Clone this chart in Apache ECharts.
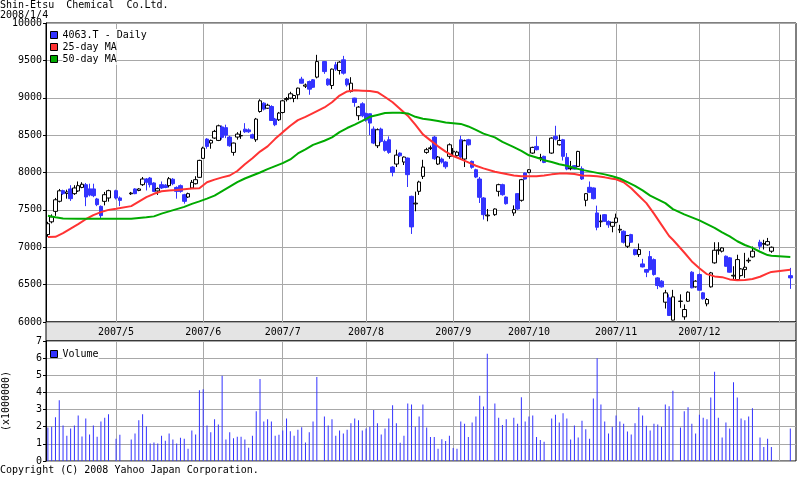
<!DOCTYPE html>
<html>
<head>
<meta charset="utf-8">
<script src="https://cdn.jsdelivr.net/npm/echarts@6/dist/echarts.min.js"></script>
<style>
  html, body { margin: 0; padding: 0; background: #fff; }
  #chart { width: 800px; height: 477px; }
</style>
</head>
<body>
<div id="chart"></div>
<script>
// 4063.T Shin-Etsu Chemical, daily, 2007/4/5 - 2008/1/4
const closedDays = ['2007/4/30', '2007/5/3', '2007/5/4', '2007/7/16', '2007/9/17', '2007/9/24',
  '2007/10/8', '2007/11/23', '2007/12/24', '2007/12/31', '2008/1/1', '2008/1/2', '2008/1/3']
const lastTrade = '2008/1/4'

// month grid lines and their labels
const monthLines = ['2007/5/1', '2007/6/1', '2007/7/2', '2007/8/1', '2007/9/3', '2007/10/1', '2007/11/1', '2007/12/3', '2008/1/1']
const monthLabels = ['2007/5', '2007/6', '2007/7', '2007/8', '2007/9', '2007/10', '2007/11', '2007/12']

// prices, one value per trading day
const opens = [7170, 7340, 7480, 7615, 7757, 7720, 7780, 7717, 7753, 7800, 7837, 7780, 7780, 7646, 7547, 7614, 7659,
  7757, 7660,
  7715, 7780, 7760, 7837, 7913, 7926, 7860, 7753, 7837, 7830, 7824, 7910, 7800, 7824, 7703, 7672, 7793, 7850, 7935, 8189,
  8447, 8394, 8461, 8429, 8610, 8600, 8474, 8269, 8474, 8490, 8580, 8570, 8505, 8438, 8816, 8928, 8860, 8883, 8715, 8705,
  8803, 8975, 8995, 8990, 9040, 9249, 9155, 9217, 9240, 9276,
  9484, 9249, 9164, 9440, 9364, 9507, 9249, 9083, 8995, 8760, 8919, 8790, 8786, 8581, 8358, 8581, 8416, 8438, 8073, 8113,
  8260, 8140, 8193, 7681, 7580, 7748, 7948, 8269, 8320, 8474, 8113, 8180, 8140, 8216, 8275, 8225, 8438, 8180, 8438, 8149,
  8037, 7913, 7659, 7420,
  7436, 7748, 7837, 7672,
  7459, 7717, 7628, 7993, 8002, 8260, 8349, 8190, 8216,
  8260, 8483, 8371, 8438, 8202, 8050, 8091, 8082, 8051, 7628, 7802, 7793, 7459, 7340, 7436, 7345, 7280, 7333, 7230, 7214,
  7013, 7169, 6969, 6902, 6777, 6701, 6875, 6835, 6590, 6546, 6265, 6323, 6025,
  6275, 6069, 6278, 6666, 6470, 6635, 6390, 6243, 6470, 6791, 6955, 6947, 6880, 6858, 6615, 6568, 6621, 6701, 6818, 6871,
  7067, 7040, 7031, 6947,
  6620]
const closes = [7315, 7405, 7635, 7755, 7717, 7740, 7650, 7793, 7824, 7843, 7673, 7700, 7690, 7570, 7423, 7703, 7757,
  7659, 7627,
  7725, 7717, 7780, 7913, 7870, 7837, 7747, 7784, 7793, 7800, 7917, 7850, 7748, 7748, 7614, 7717, 7868, 7904, 8162, 8327,
  8349, 8429, 8550, 8625, 8470, 8500, 8358, 8394, 8514, 8495, 8545, 8545, 8460, 8715, 8959, 8848, 8900, 8696, 8639, 8795,
  8959, 8990, 9053, 9030, 9129, 9195, 9170, 9115, 9140, 9484,
  9350, 9173, 9383, 9383, 9476, 9329, 9173, 9195, 8937, 8875, 8759, 8700, 8661, 8394, 8572, 8416, 8296, 8269, 8002, 8233,
  8224, 8207, 7971, 7272, 7590, 7873, 8073, 8305, 8330, 8184, 8207, 8140, 8077, 8371, 8285, 8273, 8207, 8425, 8371, 8069,
  7939, 7668, 7436, 7430,
  7512, 7837, 7703, 7583,
  7503, 7512, 7904, 7913, 8037, 8336, 8305, 8198, 8135,
  8460, 8447, 8429, 8216, 8046, 8060, 8046, 8282, 7913, 7717, 7735, 7650, 7267, 7350, 7347, 7300, 7333, 7392, 7240, 7067,
  7156, 7067, 6902, 6969, 6737, 6666, 6700, 6635, 6488, 6470, 6390, 6087, 6336,
  6280, 6167, 6399, 6457, 6546, 6425, 6310, 6301, 6657, 6960, 6965, 6991, 6746, 6666, 6625, 6835, 6710, 6733, 6826, 6947,
  7013, 7050, 7076, 7000,
  6590]
const lows = [7140, 7320, 7420, 7600, 7700, 7650, 7620, 7700, 7740, 7790, 7550, 7680, 7670, 7550, 7390, 7560, 7610,
  7640, 7550,
  7700, 7710, 7750, 7820, 7760, 7800, 7740, 7700, 7780, 7790, 7800, 7830, 7650, 7730, 7583, 7660, 7780, 7840, 7930, 8180,
  8318, 8318, 8450, 8420, 8440, 8460, 8345, 8225, 8440, 8450, 8530, 8530, 8450, 8410, 8800, 8830, 8850, 8690, 8620, 8690,
  8790, 8950, 8980, 8940, 8980, 9190, 9130, 9040, 9130, 9260,
  9320, 9160, 9116, 9360, 9310, 9310, 9150, 9070, 8880, 8700, 8740, 8680, 8500, 8380, 8327, 8400, 8280, 8250, 7948, 8073,
  8210, 8100, 7806, 7178, 7481, 7700, 7913, 8250, 8300, 8170, 8100, 8120, 8050, 8184, 8216, 8200, 8190, 8073, 8360, 8050,
  7925, 7592, 7370, 7347,
  7420, 7680, 7690, 7570,
  7420, 7500, 7610, 7905, 7990, 8250, 8295, 8150, 8125,
  8250, 8430, 8360, 8160, 8030, 8030, 8040, 8075, 7900, 7548, 7725, 7640, 7227, 7270, 7340, 7260, 7200, 7320, 7190, 7050,
  6990, 7060, 6890, 6870, 6730, 6600, 6690, 6620, 6440, 6460, 6180, 6080, 6020,
  6190, 6030, 6270, 6450, 6460, 6420, 6300, 6210, 6460, 6780, 6900, 6930, 6740, 6660, 6570, 6560, 6610, 6590, 6790, 6860,
  6970, 6970, 7020, 6925,
  6443]
const highs = [7340, 7440, 7660, 7780, 7770, 7770, 7830, 7830, 7880, 7870, 7860, 7850, 7850, 7660, 7560, 7740, 7770,
  7770, 7680,
  7740, 7790, 7790, 7940, 7925, 7940, 7870, 7800, 7880, 7845, 7940, 7925, 7815, 7840, 7715, 7730, 7900, 7950, 8170, 8345,
  8460, 8440, 8570, 8640, 8630, 8640, 8490, 8400, 8540, 8560, 8660, 8590, 8520, 8730, 8980, 8940, 8920, 8900, 8730, 8810,
  8970, 9010, 9080, 9040, 9135, 9280, 9190, 9230, 9250, 9574,
  9490, 9260, 9390, 9480, 9490, 9560, 9260, 9275, 9000, 8890, 8940, 8800, 8790, 8616, 8590, 8600, 8440, 8483, 8085, 8305,
  8270, 8215, 8200, 7690, 7744, 7890, 8170, 8330, 8360, 8490, 8220, 8200, 8150, 8390, 8327, 8290, 8492, 8440, 8450, 8160,
  8050, 7940, 7670, 7512,
  7520, 7850, 7850, 7680,
  7560, 7725, 7915, 8000, 8045, 8345, 8483, 8250, 8225,
  8470, 8625, 8505, 8450, 8260, 8155, 8100, 8290, 8082, 7725, 7880, 7800, 7557, 7436, 7445, 7360, 7340, 7450, 7300, 7225,
  7165, 7180, 6980, 7050, 6845, 6710, 6950, 6850, 6600, 6560, 6430, 6370, 6430,
  6370, 6235, 6410, 6680, 6560, 6650, 6400, 6320, 6670, 7067, 7067, 7000, 6890, 6870, 6746, 6900, 6720, 6925, 6860, 7010,
  7100, 7100, 7125, 7010,
  6724]
// volume, x1000000 shares
const volumes = [1.95, 2.0, 2.55, 3.55, 2.07, 1.48, 1.9, 2.07, 2.65, 1.43, 2.48, 1.54, 2.07, 1.42, 2.3, 2.53, 2.72,
  1.3, 1.53,
  1.25, 1.6, 2.37, 2.72, 2.02, 1.02, 1.08, 1.02, 1.48, 1.18, 1.6, 1.25, 1.02, 1.36, 1.3, 0.72, 1.78, 1.55, 4.12, 4.18,
  2.07, 1.68, 2.43, 2.13, 4.97, 1.25, 1.67, 1.32, 1.42, 1.42, 1.25, 0.78, 1.48, 2.9, 4.78, 2.3, 2.43, 2.3, 1.48, 1.53,
  1.78, 2.48, 1.73, 1.48, 1.83, 1.97, 1.08, 1.67, 2.3, 4.9,
  2.6, 2.07, 2.43, 1.48, 1.78, 1.6, 1.83, 2.2, 2.48, 2.37, 1.78, 1.9, 2.0, 2.97, 2.2, 1.55, 1.9, 2.48, 3.25, 2.2,
  1.06, 1.47, 3.35, 3.3, 2.0, 2.6, 3.3, 1.95, 1.4, 1.4, 0.72, 1.27, 1.16, 1.47, 0.76, 0.72, 2.3, 2.18, 1.4, 2.25,
  2.6, 3.8, 3.18, 6.25,
  3.35, 2.53, 2.1, 2.43,
  2.53, 2.18, 3.72, 2.3, 2.6, 2.65, 1.4, 1.23, 1.12,
  2.48, 2.7, 2.25, 2.78, 2.48, 1.25, 2.07, 1.37, 2.35, 1.85, 1.3, 3.65, 6.0, 3.3, 2.3, 1.6, 2.0, 2.65, 2.3, 2.18,
  1.72, 1.55, 2.2, 3.13, 2.65, 2.05, 1.78, 2.18, 2.13, 2.0, 3.3, 3.2, 4.1,
  1.95, 2.9, 3.13, 2.18, 1.6, 2.7, 2.53, 2.43, 3.7, 5.2, 2.53, 1.37, 2.25, 1.9, 4.6, 3.7, 2.48, 2.37, 2.6, 3.07,
  1.37, 0.82, 1.3, 0.82,
  1.9]

// moving averages
const ma25Days = ['2007/4/5', '2007/4/9', '2007/4/11', '2007/4/13', '2007/4/17', '2007/4/19', '2007/4/23', '2007/4/25', '2007/4/27',
  '2007/5/1', '2007/5/7', '2007/5/9', '2007/5/11', '2007/5/15', '2007/5/17', '2007/5/21', '2007/5/23', '2007/5/25', '2007/5/29', '2007/5/31',
  '2007/6/4', '2007/6/6', '2007/6/8', '2007/6/12', '2007/6/14', '2007/6/18', '2007/6/20', '2007/6/22', '2007/6/26', '2007/6/28',
  '2007/7/2', '2007/7/4', '2007/7/6', '2007/7/10', '2007/7/12', '2007/7/17', '2007/7/19', '2007/7/23', '2007/7/25', '2007/7/27', '2007/7/31',
  '2007/8/2', '2007/8/6', '2007/8/8', '2007/8/10', '2007/8/14', '2007/8/16', '2007/8/20', '2007/8/22', '2007/8/24', '2007/8/28', '2007/8/30',
  '2007/9/3', '2007/9/5', '2007/9/7', '2007/9/11', '2007/9/13', '2007/9/18', '2007/9/20', '2007/9/25', '2007/9/27',
  '2007/10/1', '2007/10/3', '2007/10/5', '2007/10/9', '2007/10/11', '2007/10/15', '2007/10/17', '2007/10/19', '2007/10/23', '2007/10/25', '2007/10/29', '2007/10/31',
  '2007/11/1', '2007/11/5', '2007/11/7', '2007/11/9', '2007/11/13', '2007/11/15', '2007/11/19', '2007/11/21', '2007/11/22', '2007/11/27', '2007/11/29',
  '2007/12/3', '2007/12/5', '2007/12/7', '2007/12/11', '2007/12/13', '2007/12/17', '2007/12/19', '2007/12/21', '2007/12/25', '2007/12/27', '2007/12/28',
  '2008/1/4']
const ma25 = [7138, 7140, 7190, 7250, 7310, 7375, 7430, 7470, 7500,
  7515, 7550, 7610, 7670, 7715, 7750, 7760, 7765, 7775, 7785, 7790,
  7870, 7905, 7935, 7960, 8020, 8110, 8190, 8280, 8350, 8450,
  8540, 8625, 8700, 8745, 8795, 8870, 8940, 9030, 9085, 9100, 9095,
  9090, 9075, 9010, 8940, 8850, 8760, 8640, 8510, 8430, 8350, 8280,
  8220, 8180, 8135, 8090, 8055, 8010, 7990, 7960, 7950,
  7950, 7950, 7960, 7975, 7985, 7985, 7980, 7960, 7955, 7950, 7935, 7915,
  7910, 7870, 7790, 7690, 7590, 7450, 7300, 7150, 7100, 6930, 6810,
  6720, 6640, 6610, 6600, 6570, 6560, 6562, 6575, 6605, 6650, 6670,
  6700]
const ma50Days = ['2007/4/5', '2007/4/9', '2007/4/11', '2007/4/17', '2007/4/25',
  '2007/5/7', '2007/5/9', '2007/5/11', '2007/5/15', '2007/5/17', '2007/5/21', '2007/5/23', '2007/5/25', '2007/5/29', '2007/5/31',
  '2007/6/4', '2007/6/6', '2007/6/8', '2007/6/12', '2007/6/14', '2007/6/18', '2007/6/20', '2007/6/22', '2007/6/26', '2007/6/28',
  '2007/7/2', '2007/7/4', '2007/7/6', '2007/7/10', '2007/7/12', '2007/7/17', '2007/7/19', '2007/7/23', '2007/7/25', '2007/7/27', '2007/7/31',
  '2007/8/2', '2007/8/6', '2007/8/8', '2007/8/10', '2007/8/14', '2007/8/16', '2007/8/20', '2007/8/22', '2007/8/24', '2007/8/28', '2007/8/30',
  '2007/9/3', '2007/9/5', '2007/9/7', '2007/9/11', '2007/9/13', '2007/9/18', '2007/9/20', '2007/9/25', '2007/9/27',
  '2007/10/1', '2007/10/3', '2007/10/5', '2007/10/9', '2007/10/11', '2007/10/15', '2007/10/17', '2007/10/19', '2007/10/23', '2007/10/25', '2007/10/29', '2007/10/31',
  '2007/11/2', '2007/11/6', '2007/11/8', '2007/11/12', '2007/11/14', '2007/11/16', '2007/11/20', '2007/11/22', '2007/11/27', '2007/11/29',
  '2007/12/3', '2007/12/5', '2007/12/7', '2007/12/11', '2007/12/13', '2007/12/17', '2007/12/19', '2007/12/21', '2007/12/25', '2007/12/27', '2007/12/28',
  '2008/1/4']
const ma50 = [7420, 7400, 7385, 7380, 7380,
  7380, 7390, 7400, 7413, 7450, 7480, 7510, 7540, 7580, 7614,
  7650, 7690, 7750, 7810, 7870, 7920, 7960, 8000, 8045, 8085,
  8125, 8175, 8255, 8310, 8370, 8425, 8470, 8540, 8595, 8640, 8690,
  8745, 8770, 8795, 8800, 8800, 8790, 8745, 8720, 8705, 8690, 8670,
  8660, 8650, 8616, 8570, 8520, 8470, 8410, 8340, 8290,
  8230, 8200, 8165, 8140, 8110, 8090, 8060, 8035, 8015, 7995, 7975, 7950,
  7920, 7870, 7820, 7760, 7690, 7640, 7590, 7510, 7440, 7400,
  7360, 7310, 7260, 7200, 7146, 7080, 7030, 6991, 6940, 6895, 6885,
  6870]

// every weekday gets a slot on the axis, closed days stay empty
function fmt (d) {
  return d.getFullYear() + '/' + (d.getMonth() + 1) + '/' + d.getDate()
}
const axisDays = []
for (let d = new Date(2007, 3, 5); d <= new Date(2008, 0, 7); d.setDate(d.getDate() + 1)) {
  if (d.getDay() > 0 && d.getDay() < 6) axisDays.push(fmt(d))
}
const lastIdx = axisDays.indexOf(lastTrade)
const tradingDays = axisDays.filter((d, i) => i <= lastIdx && !closedDays.includes(d))

const candleData = axisDays.map(d => {
  const k = tradingDays.indexOf(d)
  return k < 0 ? '-' : [opens[k], closes[k], lows[k], highs[k]]
})
const volumeData = axisDays.map(d => {
  const k = tradingDays.indexOf(d)
  return k < 0 ? '-' : volumes[k]
})

const MONO = '"DejaVu Sans Mono", "Liberation Mono", monospace'
const BLUE = '#3333ff'
const GRID_LINE = '#a8a8a8'

const monthMarks = {
  silent: true,
  symbol: 'none',
  z: 1,
  label: { show: false },
  lineStyle: { color: GRID_LINE, type: 'solid', width: 1 },
  data: monthLines.map(d => ({ xAxis: d }))
}

const chart = echarts.init(document.getElementById('chart'))
chart.setOption({
  animation: false,
  backgroundColor: '#fff',
  textStyle: { fontFamily: MONO },
  grid: [
    { left: 46, top: 23, width: 750, height: 299, show: true, borderColor: '#000', borderWidth: 1,
      containLabel: false, outerBoundsMode: 'none' },
    { left: 46, top: 341, width: 750, height: 120, show: true, borderColor: '#000', borderWidth: 1,
      containLabel: false, outerBoundsMode: 'none' }
  ],
  legend: [
    {
      left: 50, top: 29, orient: 'vertical', itemGap: 0, itemWidth: 7, itemHeight: 7,
      icon: 'rect', padding: 0, selectedMode: false,
      textStyle: { fontFamily: MONO, fontSize: 10, color: '#000', backgroundColor: '#fff', lineHeight: 12 },
      itemStyle: { borderColor: '#000', borderWidth: 1 },
      data: [
        { name: '4063.T - Daily', itemStyle: { color: BLUE } },
        { name: '25-day MA', itemStyle: { color: '#ff3333' } },
        { name: '50-day MA', itemStyle: { color: '#00aa00' } }
      ]
    },
    {
      left: 50, top: 348, itemWidth: 7, itemHeight: 7, icon: 'rect', padding: 0, selectedMode: false,
      textStyle: { fontFamily: MONO, fontSize: 10, color: '#000', backgroundColor: '#fff', lineHeight: 12 },
      itemStyle: { borderColor: '#000', borderWidth: 1 },
      data: [{ name: 'Volume', itemStyle: { color: BLUE } }]
    }
  ],
  xAxis: [
    {
      type: 'category', gridIndex: 0, data: axisDays, boundaryGap: true,
      axisLine: { show: false }, axisTick: { show: false }, splitLine: { show: false },
      axisLabel: {
        margin: 5, fontFamily: MONO, fontSize: 10, color: '#000',
        interval: (i, v) => monthLines.indexOf(v) >= 0 && monthLines.indexOf(v) < monthLabels.length,
        formatter: v => monthLabels[monthLines.indexOf(v)] || ''
      }
    },
    {
      type: 'category', gridIndex: 1, data: axisDays, boundaryGap: true,
      axisLine: { show: false }, axisTick: { show: false }, axisLabel: { show: false }, splitLine: { show: false }
    }
  ],
  yAxis: [
    {
      type: 'value', gridIndex: 0, min: 6000, max: 10000, interval: 500,
      axisLine: { show: true, lineStyle: { color: '#000' } },
      axisTick: { show: true, length: 3, lineStyle: { color: '#000' } },
      axisLabel: { margin: 4, fontFamily: MONO, fontSize: 10, color: '#000', formatter: v => String(v) },
      splitLine: { lineStyle: { color: GRID_LINE } }
    },
    {
      type: 'value', gridIndex: 1, min: 0, max: 7, interval: 1,
      name: '(x1000000)', nameLocation: 'middle', nameRotate: 90, nameGap: 35,
      nameTextStyle: { fontFamily: MONO, fontSize: 10, color: '#000' },
      axisLine: { show: true, lineStyle: { color: '#000' } },
      axisTick: { show: true, length: 3, lineStyle: { color: '#000' } },
      axisLabel: { margin: 4, fontFamily: MONO, fontSize: 10, color: '#000' },
      splitLine: { show: true, lineStyle: { color: GRID_LINE } }
    }
  ],
  graphic: [
    { type: 'rect', z: -1, shape: { x: 46, y: 322, width: 750, height: 19 },
      style: { fill: '#e4e4e4', stroke: '#000', lineWidth: 1 } },
    { type: 'text', left: 0, top: 0, style: { text: 'Shin-Etsu  Chemical  Co.Ltd.', font: '10px ' + MONO, fill: '#000' } },
    { type: 'text', left: 0, top: 10, style: { text: '2008/1/4', font: '10px ' + MONO, fill: '#000' } },
    { type: 'text', left: 0, top: 465, style: { text: 'Copyright (C) 2008 Yahoo Japan Corporation.', font: '10px ' + MONO, fill: '#000' } }
  ],
  series: [
    {
      name: '4063.T - Daily', type: 'candlestick', xAxisIndex: 0, yAxisIndex: 0,
      data: candleData, barWidth: 4,
      itemStyle: { color: '#ffffff', color0: BLUE, borderColor: '#000000', borderColor0: BLUE, borderWidth: 1 },
      markLine: monthMarks
    },
    {
      name: '25-day MA', type: 'line', xAxisIndex: 0, yAxisIndex: 0, color: '#ff3333',
      data: ma25Days.map((d, k) => [d, ma25[k]]), symbol: 'none', z: 3,
      lineStyle: { color: '#ff3333', width: 2 }
    },
    {
      name: '50-day MA', type: 'line', xAxisIndex: 0, yAxisIndex: 0, color: '#00aa00',
      data: ma50Days.map((d, k) => [d, ma50[k]]), symbol: 'none', z: 3,
      lineStyle: { color: '#00aa00', width: 2 }
    },
    {
      name: 'Volume', type: 'bar', xAxisIndex: 1, yAxisIndex: 1, color: BLUE,
      data: volumeData, barWidth: 1,
      markLine: monthMarks
    }
  ]
})
</script>
</body>
</html>
